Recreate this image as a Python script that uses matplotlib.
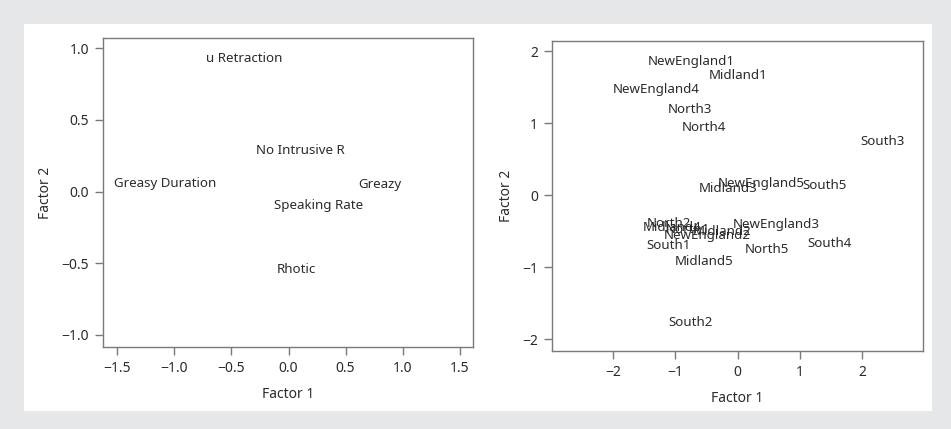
import matplotlib
matplotlib.use("Agg")
import matplotlib.pyplot as plt
from matplotlib.patches import Rectangle

plt.rcParams['font.family'] = ['Noto Sans', 'DejaVu Sans']

# left panel: variable loadings
var_names = ["u Retraction", "No Intrusive R", "Greasy Duration", "Greazy",
             "Speaking Rate", "Rhotic"]
var_f1 = [-0.385, 0.10, -1.08, 0.80, 0.26, 0.07]
var_f2 = [0.93, 0.284, 0.054, 0.047, -0.098, -0.542]

# right panel: speaker scores
spk_names = ["NewEngland1", "Midland1", "NewEngland4", "North3", "North4",
             "South3", "NewEngland5", "Midland3", "South5", "NewEngland3",
             "North2", "Midland4", "North1", "Midland2", "NewEngland2",
             "South1", "North5", "South4", "Midland5", "South2"]
spk_f1 = [-0.75, 0.01, -1.30, -0.76, -0.54,
          2.33, 0.37, -0.16, 1.39, 0.62,
          -1.11, -1.05, -0.80, -0.25, -0.49,
          -1.11, 0.47, 1.48, -0.54, -0.75]
spk_f2 = [1.856, 1.67, 1.476, 1.19, 0.94,
          0.754, 0.167, 0.097, 0.133, -0.41,
          -0.386, -0.45, -0.47, -0.50, -0.56,
          -0.70, -0.755, -0.676, -0.926, -1.77]

left_xticks = [-1.5, -1.0, -0.5, 0.0, 0.5, 1.0, 1.5]
left_yticks = [-1.0, -0.5, 0.0, 0.5, 1.0]
right_xticks = [-2, -1, 0, 1, 2]
right_yticks = [-2, -1, 0, 1, 2]

txt_col = "#2b2b2b"
frame_col = "#7a7a7a"

fig = plt.figure(figsize=(9.51, 4.29), dpi=100, facecolor="#e6e7e8")
fig.patches.append(Rectangle((24 / 951, 1 - 411 / 429), 908 / 951, 387 / 429,
                             transform=fig.transFigure, facecolor="white",
                             edgecolor="none", zorder=-10))

ax1 = fig.add_axes([0.1083, 0.1911, 0.389, 0.7203])
ax2 = fig.add_axes([0.5804, 0.1825, 0.390, 0.7226])


def style(ax):
    for s in ax.spines.values():
        s.set_color(frame_col)
        s.set_linewidth(1.0)
    ax.tick_params(direction="out", length=6, width=1.0, color=frame_col,
                   labelcolor=txt_col, labelsize=10, pad=4)
    ax.set_xlabel("Factor 1", color=txt_col, fontsize=10, labelpad=8)
    ax.set_ylabel("Factor 2", color=txt_col, fontsize=10, labelpad=6)


for n, x, y in zip(var_names, var_f1, var_f2):
    ax1.text(x, y, n, ha="center", va="center", fontsize=9.6, color=txt_col)
ax1.set_xlim(-1.625, 1.615)
ax1.set_ylim(-1.084, 1.072)
ax1.set_xticks(left_xticks)
ax1.set_xticklabels([f"{v:.1f}".replace("-", "\u2212") for v in left_xticks])
ax1.set_yticks(left_yticks)
ax1.set_yticklabels([f"{v:.1f}".replace("-", "\u2212") for v in left_yticks])
style(ax1)

for n, x, y in zip(spk_names, spk_f1, spk_f2):
    ax2.text(x, y, n, ha="center", va="center", fontsize=9.6, color=txt_col)
ax2.set_xlim(-2.98, 2.97)
ax2.set_ylim(-2.158, 2.147)
ax2.set_xticks(right_xticks)
ax2.set_xticklabels([str(v).replace("-", "\u2212") for v in right_xticks])
ax2.set_yticks(right_yticks)
ax2.set_yticklabels([str(v).replace("-", "\u2212") for v in right_yticks])
style(ax2)

fig.savefig("out.png", dpi=100, facecolor=fig.get_facecolor())
